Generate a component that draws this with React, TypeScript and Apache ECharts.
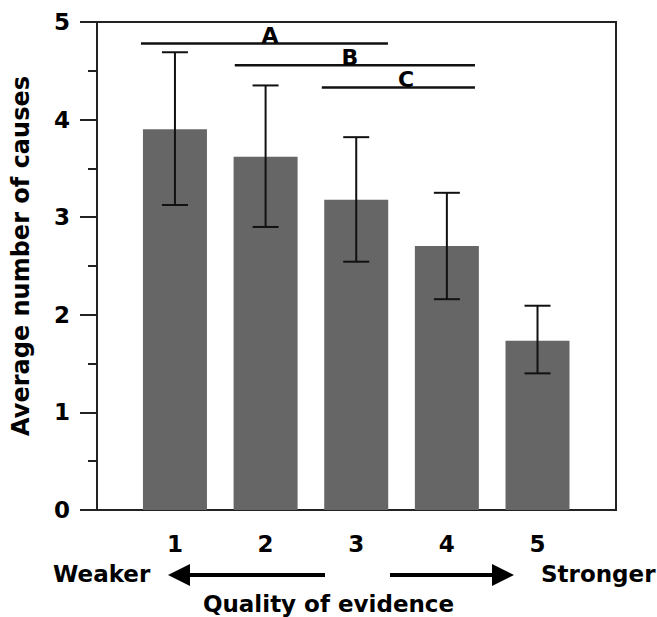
import React, { useEffect, useRef } from "react";
import * as echarts from "echarts";

const categories = [1, 2, 3, 4, 5];
const means = [3.9, 3.62, 3.18, 2.705, 1.735];
const errLow = [3.125, 2.9, 2.544, 2.16, 1.4];
const errHigh = [4.69, 4.35, 3.82, 3.25, 2.093];
const yTicks = [0, 1, 2, 3, 4, 5];

const sigLabels = ["A", "B", "C"];
const sigStart = [0.625, 1.66, 2.62];
const sigEnd = [3.35, 4.31, 4.31];
const sigY = [4.78, 4.556, 4.33];
const sigLabelX = [2.05, 2.93, 3.55];

const FONT = "'DejaVu Sans', sans-serif";

export default function App() {
  const ref = useRef<HTMLDivElement>(null);
  useEffect(() => {
    if (!ref.current) return;
    const chart = echarts.init(ref.current, null, { renderer: "svg" });
    const option: any = {
      animation: false,
      backgroundColor: "#ffffff",
      grid: {
        left: 97,
        top: 22,
        width: 519,
        height: 488,
        outerBoundsMode: "none",
        containLabel: false,
        show: true,
        borderColor: "#222",
        borderWidth: 2,
        backgroundColor: "transparent",
      },
      xAxis: {
        type: "value",
        min: 0.14,
        max: 5.866,
        axisLine: { show: true, lineStyle: { color: "#222", width: 2 } },
        axisTick: { show: false },
        splitLine: { show: false },
        axisLabel: {
          customValues: categories,
          margin: 22,
          color: "#000",
          fontFamily: FONT,
          fontWeight: "bold",
          fontSize: 23,
          formatter: (v: number) => String(v),
        },
      },
      yAxis: {
        type: "value",
        min: 0,
        max: 5,
        interval: 1,
        axisLine: { show: true, lineStyle: { color: "#222", width: 2 } },
        axisTick: { show: true, length: 17, lineStyle: { color: "#222", width: 2 } },
        minorTick: { show: true, splitNumber: 2, length: 9, lineStyle: { color: "#222", width: 2 } },
        splitLine: { show: false },
        axisLabel: {
          margin: 27,
          color: "#000",
          fontFamily: FONT,
          fontWeight: "bold",
          fontSize: 23,
          formatter: (v: number) => (yTicks.includes(v) ? String(v) : ""),
        },
        name: "Average number of causes",
        nameLocation: "middle",
        nameGap: 64,
        nameTextStyle: {
          color: "#000",
          fontFamily: FONT,
          fontWeight: "bold",
          fontSize: 24,
          padding: [0, 0, 0, 20],
        },
      },
      series: [
        {
          type: "bar",
          data: categories.map((c, i) => [c, means[i]]),
          barWidth: 64,
          itemStyle: { color: "#666666" },
          z: 2,
        },
        {
          type: "custom",
          data: categories.map((c, i) => [c, errLow[i], errHigh[i]]),
          z: 5,
          renderItem: (params: any, api: any) => {
            const x = api.value(0);
            const lo = api.coord([x, api.value(1)]);
            const hi = api.coord([x, api.value(2)]);
            const hw = 13;
            const style = { stroke: "#111", lineWidth: 2 };
            return {
              type: "group",
              children: [
                { type: "line", shape: { x1: lo[0], y1: lo[1], x2: hi[0], y2: hi[1] }, style },
                { type: "line", shape: { x1: hi[0] - hw, y1: hi[1], x2: hi[0] + hw, y2: hi[1] }, style },
                { type: "line", shape: { x1: lo[0] - hw, y1: lo[1], x2: lo[0] + hw, y2: lo[1] }, style },
              ],
            };
          },
        },
        {
          type: "custom",
          data: sigLabels.map((l, i) => [sigStart[i], sigEnd[i], sigY[i], sigLabelX[i]]),
          z: 5,
          renderItem: (params: any, api: any) => {
            const p1 = api.coord([api.value(0), api.value(2)]);
            const p2 = api.coord([api.value(1), api.value(2)]);
            const pl = api.coord([api.value(3), api.value(2)]);
            return {
              type: "group",
              children: [
                { type: "line", shape: { x1: p1[0], y1: p1[1], x2: p2[0], y2: p2[1] }, style: { stroke: "#111", lineWidth: 2.5 } },
                {
                  type: "text",
                  x: pl[0],
                  y: pl[1] + 3,
                  style: {
                    text: sigLabels[params.dataIndex],
                    fill: "#000",
                    font: `bold 22px ${FONT}`,
                    align: "center",
                    verticalAlign: "bottom",
                  },
                },
              ],
            };
          },
        },
      ],
      graphic: [
        { type: "text", left: 53, top: 562, style: { text: "Weaker", fill: "#000", font: `bold 23px ${FONT}` } },
        { type: "text", left: 541, top: 562, style: { text: "Stronger", fill: "#000", font: `bold 23px ${FONT}` } },
        { type: "text", left: "center", top: 592, style: { text: "Quality of evidence", fill: "#000", font: `bold 23px ${FONT}` } },
        { type: "line", shape: { x1: 185, y1: 575, x2: 325, y2: 575 }, style: { stroke: "#000", lineWidth: 4 } },
        { type: "polygon", shape: { points: [[168, 575], [190, 564], [190, 586]] }, style: { fill: "#000" } },
        { type: "line", shape: { x1: 390, y1: 575, x2: 497, y2: 575 }, style: { stroke: "#000", lineWidth: 4 } },
        { type: "polygon", shape: { points: [[514, 575], [492, 564], [492, 586]] }, style: { fill: "#000" } },
      ],
    };
    chart.setOption(option);
    return () => chart.dispose();
  }, []);
  return (
    <div
      ref={ref}
      style={{ position: "fixed", left: 0, top: 0, width: 657, height: 617 }}
    />
  );
}
